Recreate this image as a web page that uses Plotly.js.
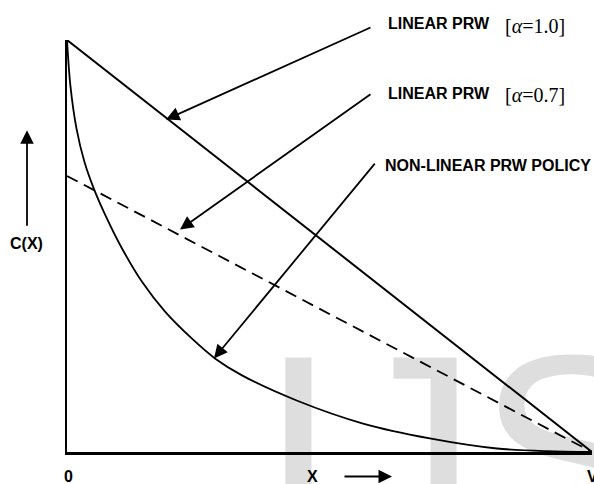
<!DOCTYPE html>
<html>
<head>
<meta charset="utf-8">
<script src="https://cdn.plot.ly/plotly-3.0.1.min.js"></script>
<style>
html,body{margin:0;padding:0;background:#fff;}
#chart{width:594px;height:484px;}
</style>
</head>
<body>
<div id="chart"></div>
<script>
// Data (normalised: X from 0 to V = 1, C(X) from 0 to 1)
const linearX = [0, 1];
const linearAlpha10 = [1.0, 0];
const linearAlpha07 = [0.67, 0];
const nonLinearX = [0, 0.0063, 0.0181, 0.0333, 0.0509, 0.073, 0.1048, 0.1429, 0.1872, 0.2381, 0.2825, 0.3333, 0.4375, 0.564, 0.691, 0.819, 0.914, 1];
const nonLinearY = [1, 0.891, 0.785, 0.704, 0.640, 0.575, 0.494, 0.413, 0.340, 0.275, 0.2265, 0.186, 0.125, 0.069, 0.033, 0.0085, 0.002, 0];
const labels = ["LINEAR PRW", "LINEAR PRW", "NON-LINEAR PRW POLICY"];
const alphaLabels = ["[<i>α</i>=1.0]", "[<i>α</i>=0.7]"];
const axisLabels = {y: "C(X)", x: "X", origin: "0", end: "V"};
const watermark = "IJS";

const sans = "'Liberation Sans', Arial, sans-serif";
const serif = "'Liberation Serif', 'Times New Roman', serif";

const traces = [
  {x: linearX, y: linearAlpha10, mode: 'lines', line: {color: '#000', width: 2}, showlegend: false},
  {x: linearX, y: linearAlpha07, mode: 'lines', line: {color: '#000', width: 1.8, dash: '12px,7px'}, showlegend: false},
  {x: nonLinearX, y: nonLinearY, mode: 'lines', line: {color: '#000', width: 1.8, shape: 'spline', smoothing: 0.8}, showlegend: false}
];

const arrowStyle = {text: '', showarrow: true, arrowhead: 2, arrowsize: 1.5, arrowwidth: 1.8, arrowcolor: '#000', standoff: 0};
const dataArrow = Object.assign({}, arrowStyle, {xref: 'x', yref: 'y', axref: 'x', ayref: 'y'});
const paperArrow = Object.assign({}, arrowStyle, {xref: 'paper', yref: 'paper', axref: 'pixel', ayref: 'pixel'});
const labelFont = {family: sans, size: 16, color: '#000', weight: 'bold'};
const alphaFont = {family: serif, size: 20, color: '#000'};
function label(text, x, y, font, anchor) {
  return {text: text, x: x, y: y, xref: 'paper', yref: 'paper', xanchor: anchor || 'left', yanchor: 'middle', showarrow: false, font: font};
}

const annotations = [
  Object.assign({}, dataArrow, {x: 0.1886, y: 0.807, ax: 0.581, ay: 1.032}),
  Object.assign({}, dataArrow, {x: 0.2152, y: 0.540, ax: 0.581, ay: 0.871}),
  Object.assign({}, dataArrow, {x: 0.280, y: 0.227, ax: 0.5886, ay: 0.7035}),
  Object.assign({}, paperArrow, {x: -0.0762, y: 0.781, ax: 0, ay: 97}),
  Object.assign({}, paperArrow, {x: 0.619, y: -0.0595, ax: -49, ay: 0}),
  label(labels[0], 0.6076, 1.039, labelFont),
  label(alphaLabels[0], 0.8305, 1.035, alphaFont),
  label(labels[1], 0.6076, 0.871, labelFont),
  label(alphaLabels[1], 0.8305, 0.867, alphaFont),
  label(labels[2], 0.602, 0.696, labelFont),
  label(axisLabels.y, -0.0762, 0.5067, labelFont, 'center'),
  label(axisLabels.x, 0.4667, -0.0595, labelFont, 'center'),
  label(axisLabels.origin, 0.0038, -0.0595, labelFont, 'center'),
  label(axisLabels.end, 1.0, -0.0595, labelFont, 'center')
];

const shapes = [
  {type: 'rect', layer: 'below', xref: 'paper', yref: 'paper',
   x0: 0.371, x1: 1.133, y0: -0.179, y1: 0.305,
   line: {width: 0}, fillcolor: 'rgba(0,0,0,0)',
   label: {text: watermark, textposition: 'middle center', padding: 0,
           font: {family: sans, size: 280, color: '#dedede'}}}
];

const layout = {
  width: 594, height: 484,
  margin: {l: 67, r: 2, t: 40, b: 32, pad: 0},
  paper_bgcolor: '#fff', plot_bgcolor: '#fff',
  showlegend: false,
  xaxis: {range: [0, 1], showgrid: false, zeroline: false, showticklabels: false, ticks: '',
          showline: true, linecolor: '#000', linewidth: 2.5, fixedrange: true},
  yaxis: {range: [0, 1], showgrid: false, zeroline: false, showticklabels: false, ticks: '',
          showline: true, linecolor: '#000', linewidth: 2.5, fixedrange: true},
  shapes: shapes,
  annotations: annotations
};

Plotly.newPlot('chart', traces, layout, {displayModeBar: false, staticPlot: true});
</script>
</body>
</html>
